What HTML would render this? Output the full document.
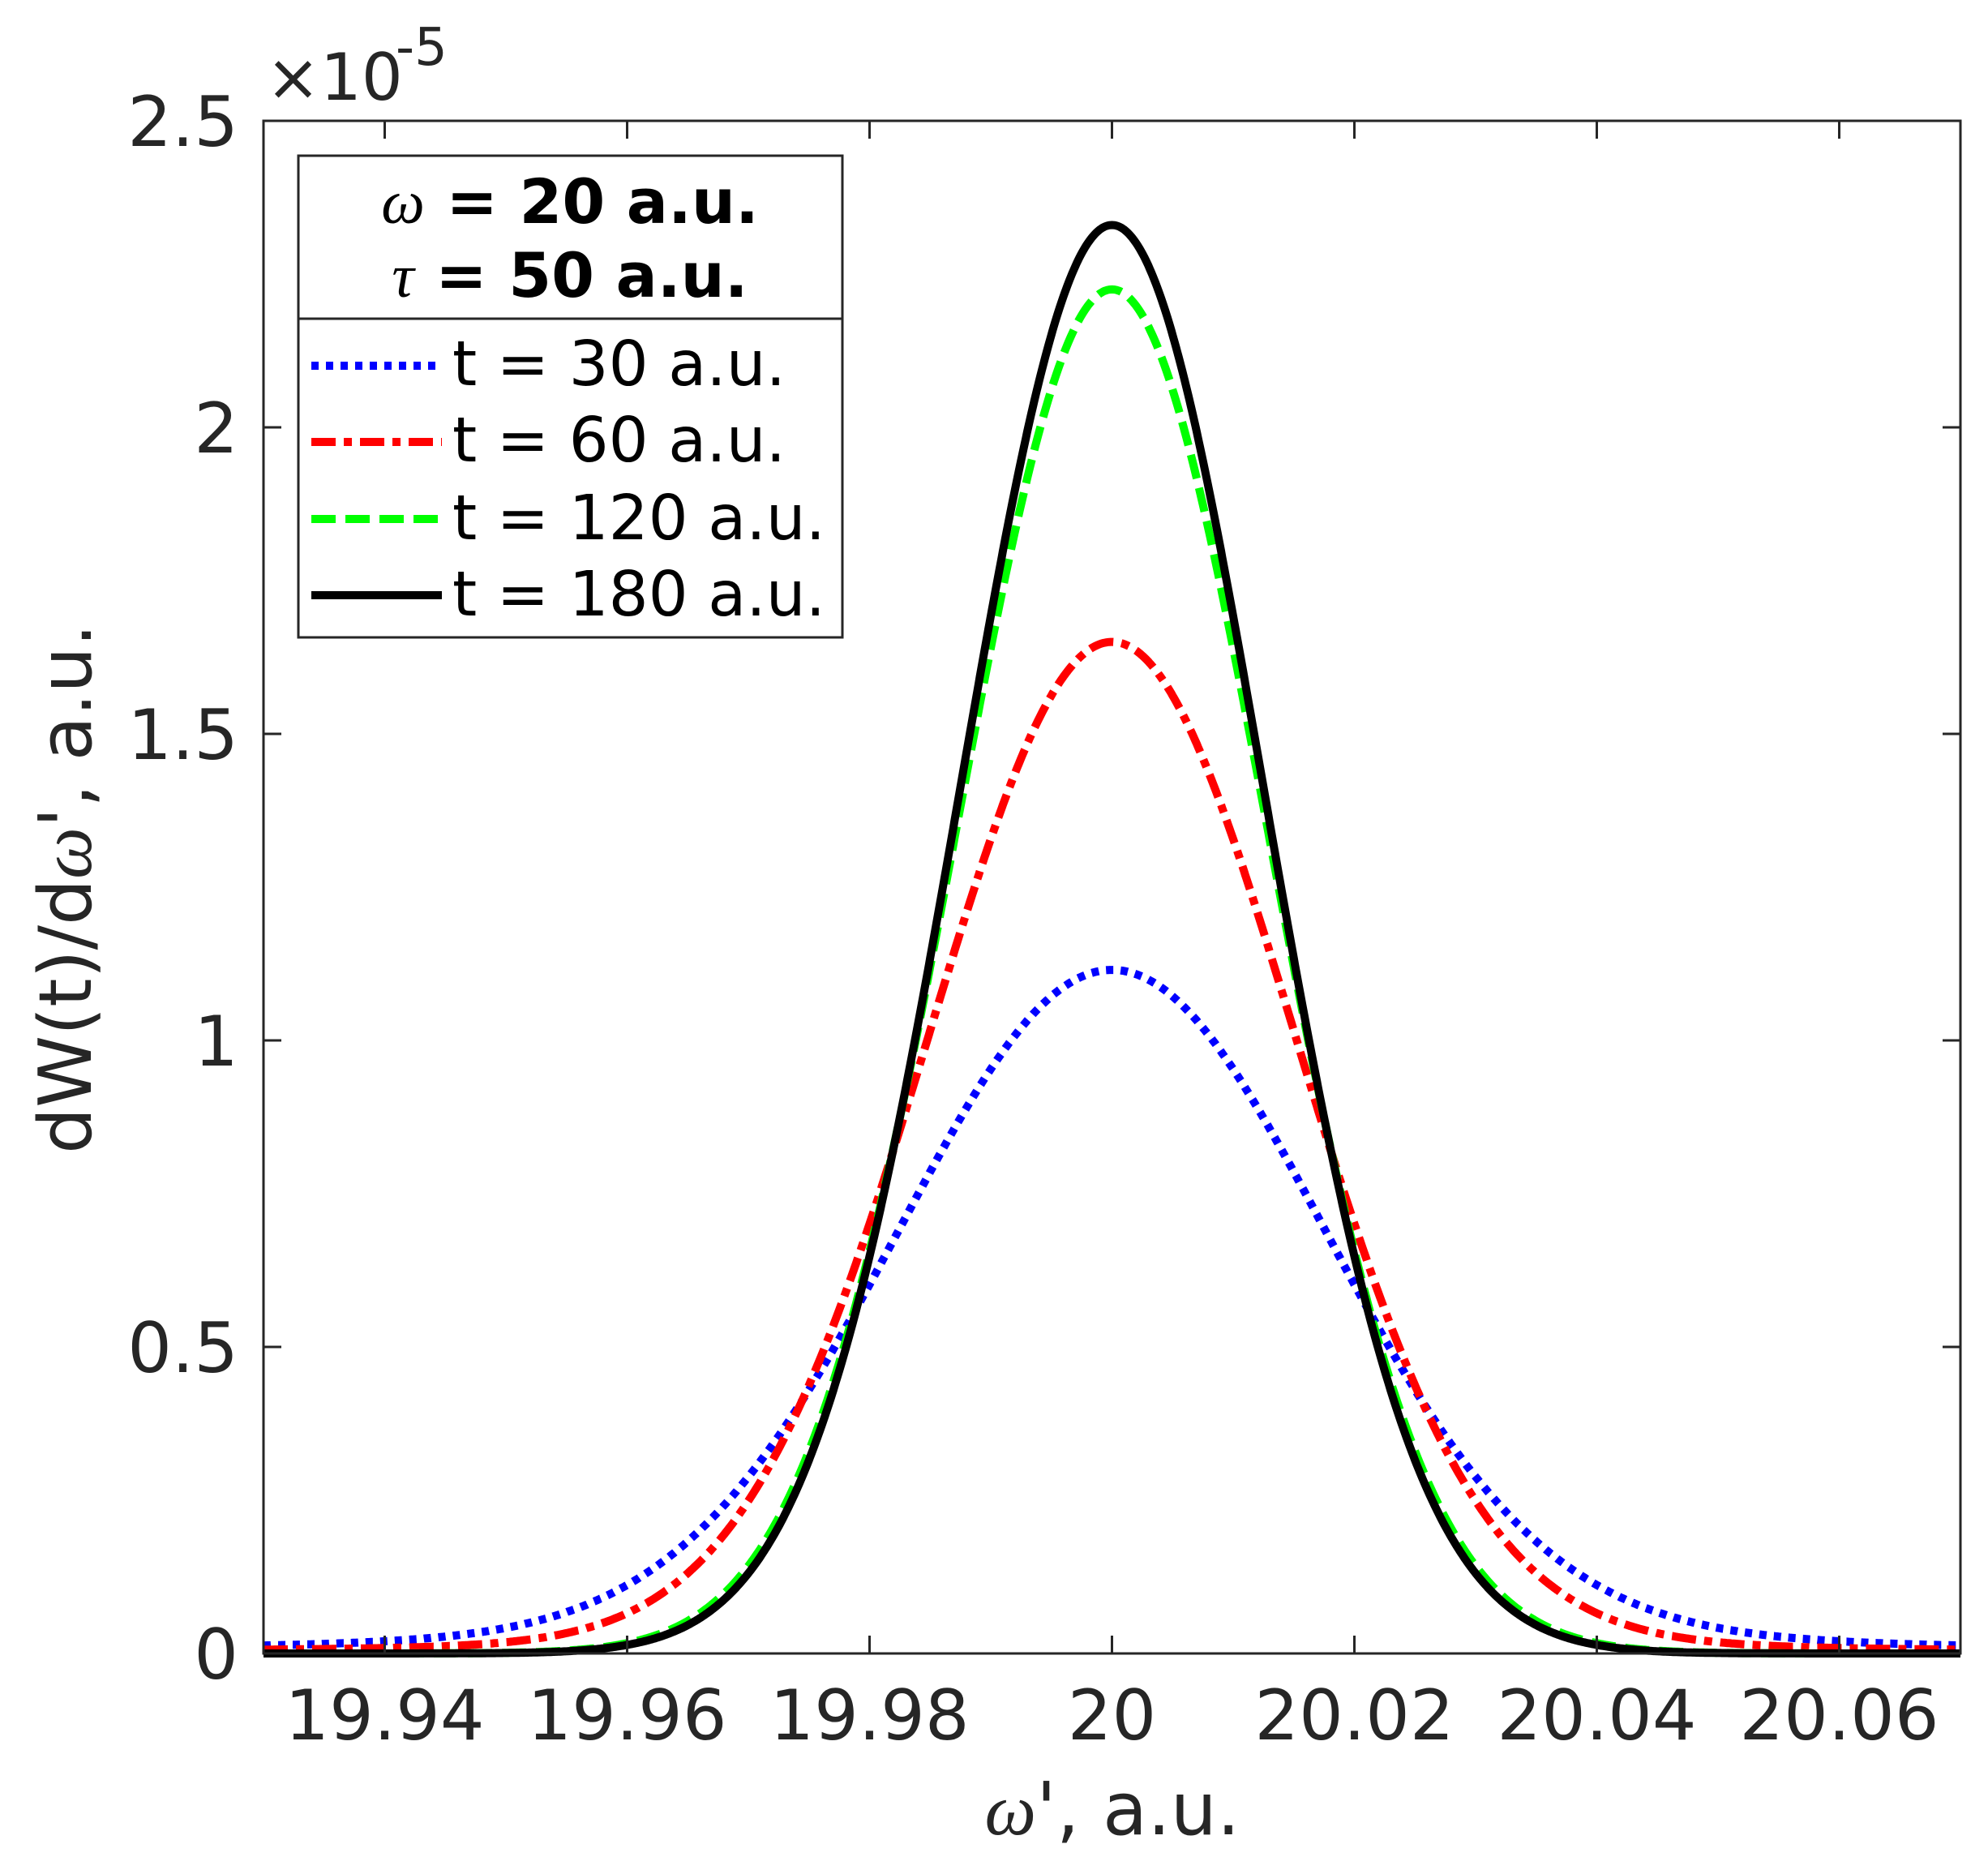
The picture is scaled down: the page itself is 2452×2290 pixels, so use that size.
<!DOCTYPE html>
<html><head><meta charset="utf-8"><style>
html,body{margin:0;padding:0;background:#fff;}
svg{display:block;font-family:"DejaVu Sans","Liberation Sans",sans-serif;}
</style></head><body>
<svg id="s" width="2452" height="2290" viewBox="0 0 2452 2290" xmlns="http://www.w3.org/2000/svg">
<rect width="2452" height="2290" fill="#fff"/>
<g id="curves" fill="none" stroke-width="10"></g>
<rect x="325" y="149" width="2093" height="1890" fill="none" stroke="#262626" stroke-width="3"/>
<g id="ticks" stroke="#262626" stroke-width="3"></g>
<g id="labels" fill="#262626" font-size="86"></g>
<text x="328" y="123" font-size="80" fill="#262626">×10</text>
<text x="488" y="80" font-size="64" fill="#262626">-5</text>
<text transform="translate(112,1096) rotate(-90)" text-anchor="middle" font-size="90" fill="#262626">dW(t)/d<tspan font-family="Liberation Serif" font-style="italic">ω</tspan>', a.u.</text>
<text x="1372" y="2262" text-anchor="middle" font-size="90" fill="#262626"><tspan font-family="Liberation Serif" font-style="italic">ω</tspan>', a.u.</text>
<rect x="368" y="192" width="671" height="594" fill="#fff" stroke="#262626" stroke-width="3"/>
<line x1="368" y1="393" x2="1039" y2="393" stroke="#262626" stroke-width="3"/>
<text x="703" y="275" text-anchor="middle" font-size="76" font-weight="bold" fill="#000"><tspan font-family="Liberation Serif" font-style="italic" font-weight="normal">ω</tspan> = 20 a.u.</text>
<text x="703" y="366" text-anchor="middle" font-size="76" font-weight="bold" fill="#000"><tspan font-family="Liberation Serif" font-style="italic" font-weight="normal">τ</tspan> = 50 a.u.</text>
<g font-size="77" fill="#000">
<text x="558" y="475">t = 30 a.u.</text>
<text x="558" y="569">t = 60 a.u.</text>
<text x="558" y="665">t = 120 a.u.</text>
<text x="558" y="759">t = 180 a.u.</text>
</g>
<g stroke-width="10" fill="none">
<line x1="384" y1="451" x2="545" y2="451" stroke="#0000ff" stroke-dasharray="9,9"/>
<line x1="384" y1="545" x2="545" y2="545" stroke="#ff0000" stroke-dasharray="30,10,10,10"/>
<line x1="384" y1="640" x2="545" y2="640" stroke="#00ff00" stroke-dasharray="30,12"/>
<line x1="384" y1="734" x2="545" y2="734" stroke="#000"/>
</g>
</svg>
<script>
var L=325,R=2418,T=149,B=2039;
function X(v){return L+(v-19.93)/0.14*(R-L);}
function Y(v){return B-v/2.5*(B-T);}
var ns="http://www.w3.org/2000/svg";
function el(p,n,a,t){var e=document.createElementNS(ns,n);for(var k in a)e.setAttribute(k,a[k]);if(t!==undefined)e.textContent=t;document.getElementById(p).appendChild(e);}
var xt=[19.94,19.96,19.98,20,20.02,20.04,20.06],xl=["19.94","19.96","19.98","20","20.02","20.04","20.06"];
xt.forEach(function(v,i){var x=X(v);el("ticks","line",{x1:x,y1:B,x2:x,y2:B-22});el("ticks","line",{x1:x,y1:T,x2:x,y2:T+22});
el("labels","text",{x:x,y:2145,"text-anchor":"middle"},xl[i]);});
var yt=[0,0.5,1,1.5,2,2.5],yl=["0","0.5","1","1.5","2","2.5"];
yt.forEach(function(v,i){var y=Y(v);el("ticks","line",{x1:L,y1:y,x2:L+22,y2:y});el("ticks","line",{x1:R,y1:y,x2:R-22,y2:y});
el("labels","text",{x:294,y:y+31,"text-anchor":"end"},yl[i]);});
function f(x,A,s,c,g){return A*((1-c)*Math.exp(-x*x/(2*s*s))+c/(1+(x/g)*(x/g)));}
var S=[["#0000ff","9,9",1.115,0.0178,0.1,0.025],["#ff0000","30,10,10,10",1.65,0.0152,0.05,0.02],["#00ff00","30,12",2.225,0.0128,0,1],["#000","",2.33,0.0125,0,1]];
S.forEach(function(s){var d="";for(var i=0;i<=1400;i++){var v=19.93+i*0.0001;var x=v-20;var y=f(x,s[2],s[3],s[4],s[5]);d+=(i?"L":"M")+X(v).toFixed(1)+","+Y(y).toFixed(1);}
var a={d:d,stroke:s[0]};if(s[1])a["stroke-dasharray"]=s[1];el("curves","path",a);});
</script>
</body></html>
